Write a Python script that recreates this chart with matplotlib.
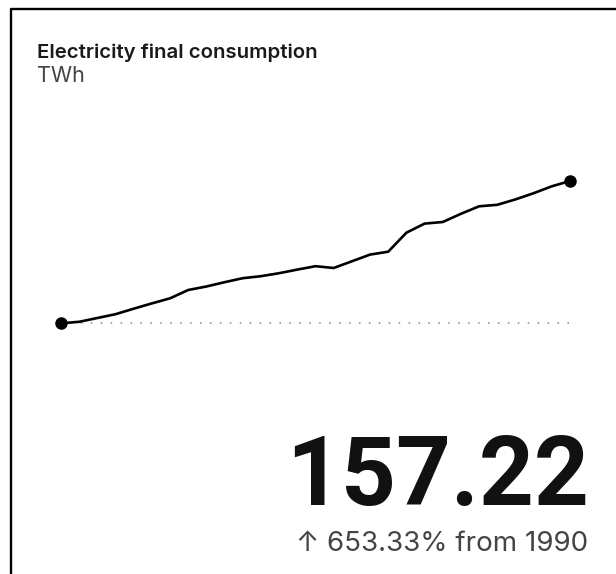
import numpy as np
import matplotlib.pyplot as plt
from matplotlib.lines import Line2D

years = list(range(1990, 2019))
consumption = [20.87, 22.31, 25.95, 29.60, 34.87, 39.95, 44.83, 52.79, 56.14, 60.26,
               64.09, 66.01, 68.88, 72.33, 75.59, 73.86, 80.28, 86.70, 89.48, 107.68,
               116.40, 117.93, 125.79, 132.97, 134.41, 139.59, 145.53, 152.14, 157.22]
title = "Electricity final consumption"
unit = "TWh"
base_year = years[0]
latest = consumption[-1]
change = (latest / consumption[0] - 1) * 100

W, H = 616, 574
fig = plt.figure(figsize=(W / 100, H / 100), dpi=100)

def px(x, y):
    return x / W, 1 - y / H

# card border (left and top only)
fig.add_artist(Line2D([11 / W, 11 / W, 1], [0, 1 - 9 / H, 1 - 9 / H],
                      transform=fig.transFigure, color='black', lw=1.7))

# line chart
left, top = px(61, 160)
right, bottom = px(570, 340)
ax = fig.add_axes([left, bottom, right - left, top - bottom])
ax.plot(years, consumption, color='black', lw=1.9, solid_joinstyle='round',
        solid_capstyle='round', zorder=3)
ax.plot([years[0], years[-1]], [consumption[0], consumption[-1]], 'o',
        color='black', ms=8, zorder=4, clip_on=False)
ax.plot([years[0], years[-1]], [consumption[0], consumption[0]], color='#888888',
        lw=1.1, linestyle=(0, (1, 5.5)), zorder=2)
ax.set_xlim(years[0], years[-1])
ax.set_ylim(4.87, 177.34)
ax.axis('off')

x, y = px(37, 58)
fig.text(x, y, title, family=['Inter', 'DejaVu Sans'], weight='semibold',
         fontsize=14.7, color='#1a1a1a', va='baseline', ha='left')
x, y = px(37, 82)
fig.text(x, y, unit, family=['Inter', 'DejaVu Sans'], fontsize=15.5,
         color='#444444', va='baseline', ha='left')

x, y = px(589, 505)
fig.text(x, y, f"{latest:.2f}", family=['Roboto', 'DejaVu Sans'], weight='bold',
         fontsize=69, color='#111111', va='baseline', ha='right')
x, y = px(588, 551)
fig.text(x, y, f"\u2191 {change:.2f}% from {base_year}", family=['Inter', 'DejaVu Sans'],
         fontsize=20, color='#444444', va='baseline', ha='right')

fig.savefig('out.png', dpi=100)
